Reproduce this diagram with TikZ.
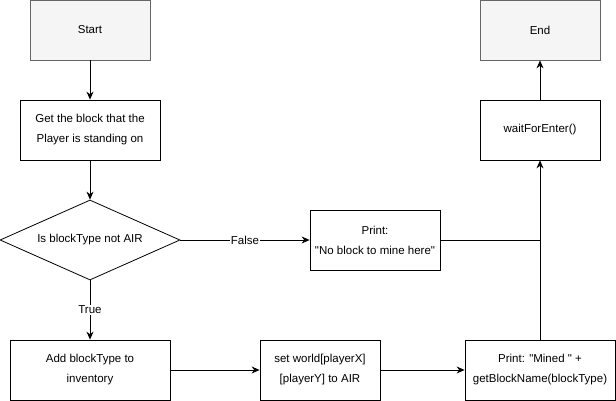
\documentclass[tikz,border=0pt]{standalone}
\usepackage{fontspec}
\setmainfont{Liberation Sans}[Ligatures=TeXOff]
\usetikzlibrary{arrows.meta,shapes.geometric}
\begin{document}
\begin{tikzpicture}[x=1pt,y=-1pt,
  every node/.style={font=\fontsize{11.5}{20}\selectfont, align=center, inner sep=0pt},
  term/.style={draw=black!60, fill=black!4, line width=0.8pt, minimum width=120pt, minimum height=60pt},
  proc/.style={draw=black, line width=0.8pt},
  dec/.style={draw=black, line width=0.8pt, diamond, aspect=2.25, minimum width=180pt, minimum height=80pt},
  conn/.style={draw=black, line width=0.8pt},
  arr/.style={conn, -{Stealth[length=8pt,width=7pt]}},
  lbl/.style={fill=white, inner sep=1pt}]
\useasboundingbox (0,0) rectangle (616,401);
\node[term] (start) at (90,30) {Start};
\node[term] (end) at (540,30) {End};
\node[proc, minimum width=140pt, minimum height=60pt] (get) at (90,130) {Get the block that the\\Player is standing on};
\node[dec] (dec) at (90,240) {Is blockType not AIR};
\node[proc, minimum width=130pt, minimum height=60pt] (nob) at (375,240) {Print:\\"No block to mine here"};
\node[proc, minimum width=120pt, minimum height=60pt] (wait) at (540,130) {waitForEnter()};
\node[proc, minimum width=160pt, minimum height=60pt] (add) at (90,370) {Add blockType to\\inventory};
\node[proc, minimum width=120pt, minimum height=60pt] (set) at (320,370) {set world[playerX]\\{[playerY]} to AIR};
\node[proc, minimum width=150pt, minimum height=60pt] (mined) at (540,370) {Print: "Mined " +\\getBlockName(blockType)};
\coordinate (j) at (540,240);
\draw[arr] (start) -- (get);
\draw[arr] (get) -- (dec);
\draw[arr] (dec.east) -- node[lbl] {False} (nob.west);
\draw[arr] (dec.south) -- node[lbl] {True} (add.north);
\draw[arr] (add) -- (set);
\draw[arr] (set) -- (mined);
\draw[arr] (mined.north) -- (wait.south);
\draw[conn] (nob.east) -- (j);
\draw[arr] (wait) -- (end);
\end{tikzpicture}
\end{document}
